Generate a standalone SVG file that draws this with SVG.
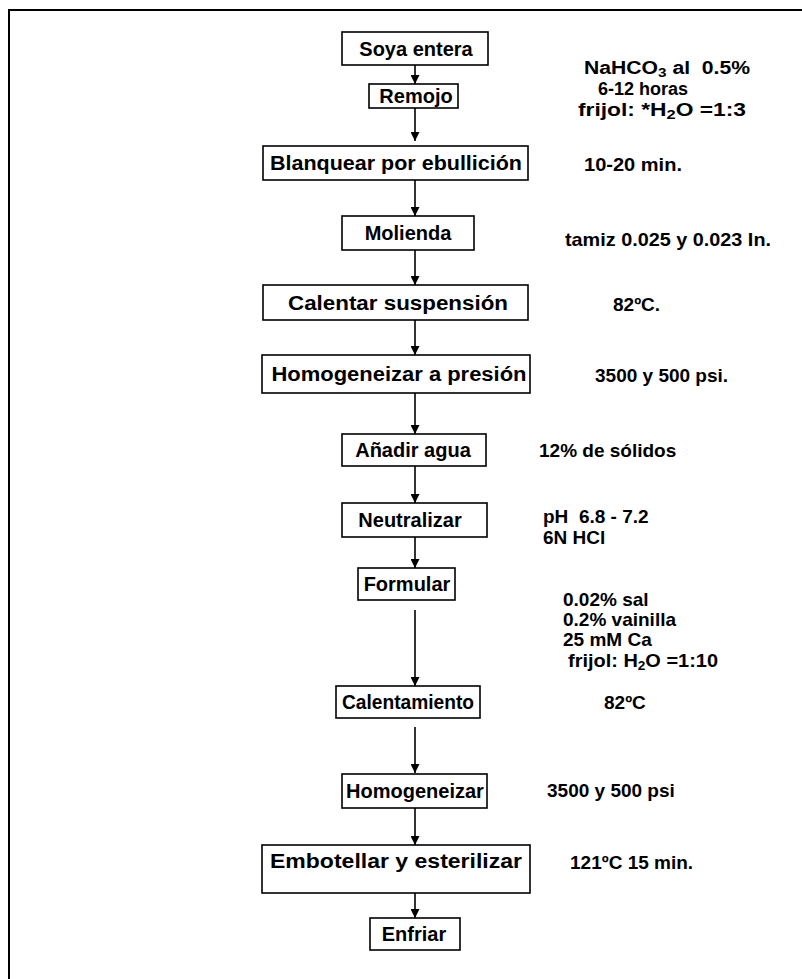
<svg xmlns="http://www.w3.org/2000/svg" width="802" height="979" viewBox="0 0 802 979">
<style>
  .box { fill: #ffffff; stroke: #000000; stroke-width: 1.6; }
  .lbl { font-family: "Liberation Sans", Arial, sans-serif; font-weight: bold; font-size: 20px; fill: #000000; text-anchor: middle; white-space: pre; }
  .note { font-family: "Liberation Sans", Arial, sans-serif; font-weight: bold; font-size: 19px; fill: #000000; white-space: pre; }
  .tight { font-size: 18px; }
  .sub { font-size: 13px; }
  .edge { stroke: #000000; stroke-width: 1.6; fill: none; marker-end: url(#ah); }
  .frame { stroke: #000000; stroke-width: 2; fill: none; }
</style>
<defs>
  <marker id="ah" viewBox="0 0 10 10" refX="10" refY="5" markerWidth="10" markerHeight="9" markerUnits="userSpaceOnUse" orient="auto">
    <path d="M0,0 L10,5 L0,10 Z" fill="#000000"/>
  </marker>
</defs>
<rect width="802" height="979" fill="#ffffff"/>
<path class="frame" d="M9,979 L9,10 L802,10"/>

<g id="connectors">
  <line class="edge" x1="415" y1="65" x2="415" y2="84"/>
  <line class="edge" x1="415" y1="108" x2="415" y2="141"/>
  <line class="edge" x1="415" y1="180" x2="415" y2="216"/>
  <line class="edge" x1="415" y1="250" x2="415" y2="285"/>
  <line class="edge" x1="415" y1="320" x2="415" y2="355"/>
  <line class="edge" x1="415" y1="393" x2="415" y2="434"/>
  <line class="edge" x1="415" y1="466" x2="415" y2="503"/>
  <line class="edge" x1="415" y1="537" x2="415" y2="568"/>
  <line class="edge" x1="415" y1="610" x2="415" y2="686"/>
  <line class="edge" x1="415" y1="727" x2="415" y2="773"/>
  <line class="edge" x1="415" y1="808" x2="415" y2="845"/>
  <line class="edge" x1="415" y1="893" x2="415" y2="918"/>
</g>

<g id="n1"><rect class="box" x="342" y="32" width="146" height="33"/><text class="lbl" x="416" y="56">Soya entera</text></g>
<g id="n2"><rect class="box" x="369" y="84" width="89" height="24"/><text class="lbl" x="416" y="103">Remojo</text></g>
<g id="n3"><rect class="box" x="263" y="146" width="265" height="34"/><text class="lbl" x="396" y="170" textLength="252" lengthAdjust="spacingAndGlyphs">Blanquear por ebullición</text></g>
<g id="n4"><rect class="box" x="342" y="216" width="132" height="34"/><text class="lbl" x="408" y="240">Molienda</text></g>
<g id="n5"><rect class="box" x="263" y="285" width="265" height="35"/><text class="lbl" x="398" y="310" textLength="220" lengthAdjust="spacingAndGlyphs">Calentar suspensión</text></g>
<g id="n6"><rect class="box" x="262" y="355" width="268" height="38"/><text class="lbl" x="399" y="381" textLength="255" lengthAdjust="spacingAndGlyphs">Homogeneizar a presión</text></g>
<g id="n7"><rect class="box" x="342" y="434" width="144" height="32"/><text class="lbl" x="413" y="457">Añadir agua</text></g>
<g id="n8"><rect class="box" x="342" y="503" width="145" height="34"/><text class="lbl" x="410" y="527">Neutralizar</text></g>
<g id="n9"><rect class="box" x="358" y="568" width="97" height="32"/><text class="lbl" x="407" y="591">Formular</text></g>
<g id="n10"><rect class="box" x="336" y="686" width="144" height="32"/><text class="lbl" x="408" y="709" textLength="132" lengthAdjust="spacingAndGlyphs">Calentamiento</text></g>
<g id="n11"><rect class="box" x="342" y="774" width="145" height="34"/><text class="lbl" x="415" y="798">Homogeneizar</text></g>
<g id="n12"><rect class="box" x="262" y="845" width="268" height="48"/><text class="lbl" x="396" y="868" textLength="252" lengthAdjust="spacingAndGlyphs">Embotellar y esterilizar</text></g>
<g id="n13"><rect class="box" x="370" y="918" width="90" height="32"/><text class="lbl" x="414" y="941">Enfriar</text></g>

<g id="notes">
  <text class="note tight" x="584" y="74" textLength="166" lengthAdjust="spacingAndGlyphs">NaHCO<tspan class="sub" dy="3">3</tspan><tspan dy="-3"> al  0.5%</tspan></text>
  <text class="note tight" x="598" y="95">6-12 horas</text>
  <text class="note tight" x="578" y="116" textLength="168" lengthAdjust="spacingAndGlyphs">frijol: *H<tspan class="sub" dy="3">2</tspan><tspan dy="-3">O =1:3</tspan></text>
  <text class="note" x="584" y="171" textLength="98" lengthAdjust="spacingAndGlyphs">10-20 min.</text>
  <text class="note" x="565" y="246" textLength="206" lengthAdjust="spacingAndGlyphs">tamiz 0.025 y 0.023 In.</text>
  <text class="note" x="613" y="311">82ºC.</text>
  <text class="note" x="595" y="382">3500 y 500 psi.</text>
  <text class="note" x="539" y="457">12% de sólidos</text>
  <text class="note" x="543" y="523">pH  6.8 - 7.2</text>
  <text class="note" x="543" y="544">6N HCl</text>
  <text class="note" x="563" y="606">0.02% sal</text>
  <text class="note" x="563" y="626">0.2% vainilla</text>
  <text class="note" x="563" y="646">25 mM Ca</text>
  <text class="note" x="568" y="667" textLength="150" lengthAdjust="spacingAndGlyphs">frijol: H<tspan class="sub" dy="3">2</tspan><tspan dy="-3">O =1:10</tspan></text>
  <text class="note" x="604" y="709">82ºC</text>
  <text class="note" x="547" y="797">3500 y 500 psi</text>
  <text class="note" x="570" y="869">121ºC 15 min.</text>
</g>
</svg>
